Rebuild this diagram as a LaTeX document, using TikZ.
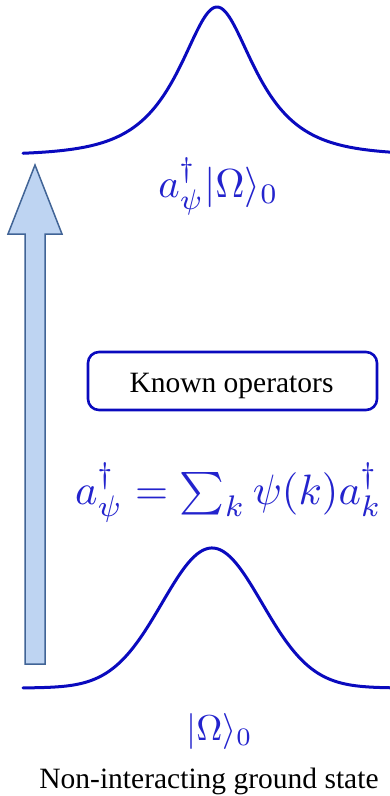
\documentclass[tikz,border=0pt]{standalone}
\usepackage{fontspec}
\setmainfont{Liberation Serif}
\definecolor{curveblue}{RGB}{10,10,190}
\definecolor{mathblue}{RGB}{35,35,205}
\definecolor{arrowfill}{RGB}{190,212,242}
\definecolor{arrowline}{RGB}{65,100,150}
\tikzset{
  wave/.style={draw=curveblue, line width=3pt, line join=round, line cap=round},
  mathlabel/.style={text=mathblue, inner sep=0pt, anchor=base},
  textlabel/.style={text=black, inner sep=0pt, anchor=base, font=\fontsize{29.5}{32}\selectfont},
  opbox/.style={draw=curveblue, line width=2.6pt, rounded corners=11pt, minimum width=289pt, minimum height=58pt},
  blockarrow/.style={fill=arrowfill, draw=arrowline, line width=1.5pt, line join=miter}
}
\begin{document}
\begin{tikzpicture}[x=1pt,y=-1pt]
\useasboundingbox (0,0) rectangle (390,796);
% block arrow
\draw[blockarrow] (25,664) -- (25,234) -- (8,234) -- (35,165) -- (62,234) -- (45,234) -- (45,664) -- cycle;
% excited state curve (top)
\draw[wave] plot[domain=23:392, samples=300] (\x, {155 - 74/cosh((\x-217)/27) - 74/cosh((\x-217)/43)});
% ground state curve (bottom)
\draw[wave] plot[domain=23:392, samples=240] (\x, {688 - 140*exp(-0.5*((\x-212)/50)^2)});
% labels
\node[mathlabel, scale=4.05] (top) at (218.5,197) {$a_\psi^\dagger|\Omega\rangle_0$};
\node[opbox] (box) at (232.5,381) {};
\node[textlabel] (known) at (231.5,392) {Known operators};
\node[mathlabel, scale=4.25] (eq) at (228.5,504) {$a_\psi^\dagger = \sum_k \psi(k) a_k^\dagger$};
\node[mathlabel, scale=3.6] (ground) at (219.5,740) {$|\Omega\rangle_0$};
\node[textlabel] (gs) at (209,788) {Non-interacting ground state};
\end{tikzpicture}
\end{document}
